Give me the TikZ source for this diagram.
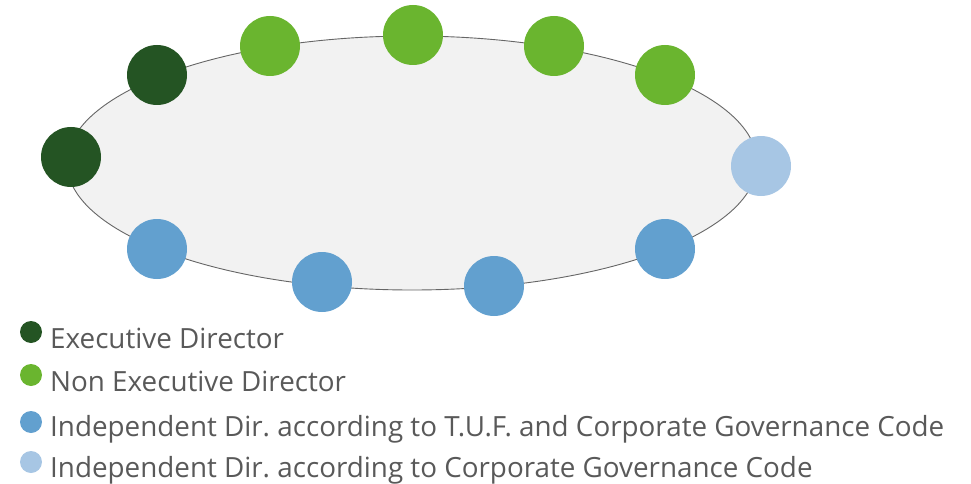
\documentclass[tikz,border=0pt]{standalone}
\usepackage{fontspec}
\setmainfont{Open Sans}
\frenchspacing
\definecolor{execgreen}{HTML}{245423}
\definecolor{nonexecgreen}{HTML}{6AB52F}
\definecolor{indepblue}{HTML}{62A0CF}
\definecolor{codeblue}{HTML}{A7C6E4}
\definecolor{boardfill}{HTML}{F2F2F2}
\definecolor{textgray}{HTML}{595959}
\begin{document}
\begin{tikzpicture}[x=1pt,y=-1pt,
  member/.style={circle,minimum size=60pt,inner sep=0pt},
  key/.style={circle,minimum size=22pt,inner sep=0pt},
  keytext/.style={anchor=base west,inner sep=0pt,text=textgray,font=\fontsize{27.8}{32}\selectfont}]
\useasboundingbox (0,0) rectangle (971,484);
% board table
\draw[draw=black!60,fill=boardfill,line width=0.9pt] (412,163) ellipse [x radius=345, y radius=127];
% seats around the table
\node[member,fill=execgreen] (e1) at (71,157) {};
\node[member,fill=execgreen] (e2) at (157,75) {};
\node[member,fill=nonexecgreen] (n1) at (270,46) {};
\node[member,fill=nonexecgreen] (n2) at (413,35) {};
\node[member,fill=nonexecgreen] (n3) at (554,46) {};
\node[member,fill=nonexecgreen] (n4) at (665,75) {};
\node[member,fill=codeblue] (c1) at (761,166) {};
\node[member,fill=indepblue] (i1) at (665,249) {};
\node[member,fill=indepblue] (i2) at (494,286) {};
\node[member,fill=indepblue] (i3) at (322,282) {};
\node[member,fill=indepblue] (i4) at (157,249) {};
% legend
\node[key,fill=execgreen] (k1) at (31,332) {};
\node[key,fill=nonexecgreen] (k2) at (31,375) {};
\node[key,fill=indepblue] (k3) at (31,422) {};
\node[key,fill=codeblue] (k4) at (31,462) {};
\node[keytext] (t1) at (50,348) {Executive Director};
\node[keytext] (t2) at (50,391) {Non Executive Director};
\node[keytext] (t3) at (50,436) {Independent Dir. according to T.U.F. and Corporate Governance Code};
\node[keytext] (t4) at (50,477) {Independent Dir. according to Corporate Governance Code};
\end{tikzpicture}
\end{document}
